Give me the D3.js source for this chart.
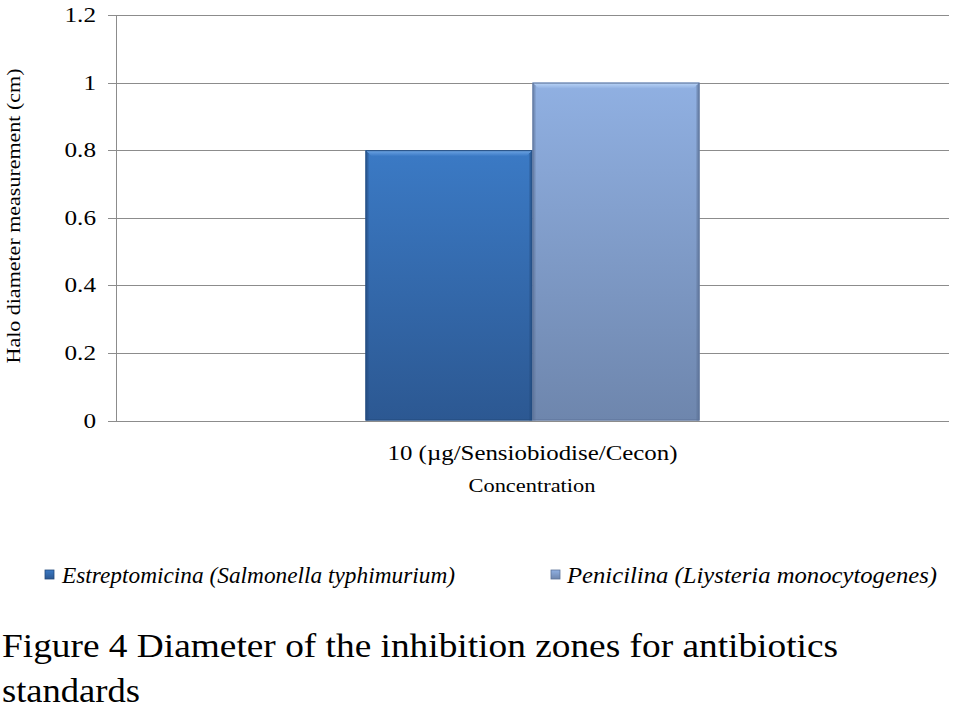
<!DOCTYPE html>
<html>
<head>
<meta charset="utf-8">
<script src="https://cdn.jsdelivr.net/npm/d3@7"></script>
</head>
<body style="margin:0;padding:0;background:#fff">
<svg id="chart" width="969" height="723" style="display:block"></svg>
<script>
// ---- data ----
const categories = ["10 (\u00b5g/Sensiobiodise/Cecon)"];
const seriesNames = ["Estreptomicina (Salmonella typhimurium)", "Penicilina (Liysteria monocytogenes)"];
const estreptomicina = [0.8];
const penicilina = [1.0];
const yTicks = [0, 0.2, 0.4, 0.6, 0.8, 1, 1.2];
const yTickLabels = ["0", "0.2", "0.4", "0.6", "0.8", "1", "1.2"];
const xTitle = "Concentration";
const yTitle = "Halo diameter measurement  (cm)";
const captionLines = ["Figure 4 Diameter of the inhibition zones for antibiotics", "standards"];

const FONT = "Liberation Serif";
(function () {
  const c = document.createElement("canvas").getContext("2d");
  ["", "italic "].forEach(st => {
    c.font = `${st}20px "${FONT}", serif`;
    c.measureText("Figure 4 Diameter 0.8 (\u00b5g/Cecon)");
  });
})();

const seriesValues = [estreptomicina, penicilina];
const rows = categories.map((c, i) => ({ cat: c, vals: seriesValues.map((s, j) => ({ key: seriesNames[j], idx: j, v: s[i] })) }));

const svg = d3.select("#chart").attr("font-family", FONT);
const plotL = 116, plotR = 949, plotT = 15, plotB = 420.5;

const x0 = d3.scaleBand().domain(categories).range([plotL, plotR]).paddingInner(0).paddingOuter(0.747);
const x1 = d3.scaleBand().domain(seriesNames).range([0, x0.bandwidth()]).padding(0);
const y = d3.scaleLinear().domain([0, 1.2]).range([plotB, plotT]);

// gradients
const defs = svg.append("defs");
const palettes = [
  { top: "#3b7ac5", bottom: "#2c5892", edge: "#234a7c", hi: "#72a8e6" },
  { top: "#90b0e2", bottom: "#6e86ad", edge: "#5d7398", hi: "#bcd6f7" }
];
palettes.forEach((p, i) => {
  const g = defs.append("linearGradient").attr("id", "g" + i).attr("x1", 0).attr("y1", 0).attr("x2", 0).attr("y2", 1);
  g.append("stop").attr("offset", "0%").attr("stop-color", p.top);
  g.append("stop").attr("offset", "100%").attr("stop-color", p.bottom);
  const h = defs.append("linearGradient").attr("id", "h" + i).attr("x1", 0).attr("y1", 0).attr("x2", 0).attr("y2", 1);
  h.append("stop").attr("offset", "0%").attr("stop-color", p.hi);
  h.append("stop").attr("offset", "100%").attr("stop-color", p.top);
});

// gridlines
svg.append("g").selectAll("line").data(yTicks).join("line")
  .attr("x1", plotL - 8).attr("x2", plotR)
  .attr("y1", d => Math.round(y(d)) + 0.5).attr("y2", d => Math.round(y(d)) + 0.5)
  .attr("stroke", "#8c8c8c").attr("stroke-width", 1);

// y axis line
svg.append("line").attr("x1", plotL + 0.5).attr("x2", plotL + 0.5).attr("y1", y(1.2)).attr("y2", y(0) + 1)
  .attr("stroke", "#8c8c8c");

// y tick labels (slightly wide, as in the reference)
svg.append("g").selectAll("text").data(yTicks).join("text")
  .attr("font-family", FONT)
  .attr("x", 96).attr("y", d => y(d) + 7)
  .attr("text-anchor", "end").attr("font-size", 21)
  .text((d, i) => yTickLabels[i])
  .each(function () {
    const w = this.getComputedTextLength();
    d3.select(this).attr("textLength", w * 1.2).attr("lengthAdjust", "spacingAndGlyphs");
  });

// bars
const groups = svg.append("g").selectAll("g").data(rows).join("g")
  .attr("transform", d => `translate(${x0(d.cat)},0)`);

const bars = groups.selectAll("g.bar").data(d => d.vals).join("g").attr("class", "bar");
bars.each(function(d) {
  const g = d3.select(this);
  const bx = x1(d.key), bw = x1.bandwidth();
  const by = y(d.v), bh = y(0) - y(d.v);
  const p = palettes[d.idx];
  g.append("rect").attr("x", bx).attr("y", by).attr("width", bw).attr("height", bh)
    .attr("fill", `url(#g${d.idx})`);
  const bev = 6;
  g.append("path")
    .attr("d", `M${bx},${by} L${bx + bw},${by} L${bx + bw - bev},${by + bev} L${bx + bev},${by + bev} Z`)
    .attr("fill", `url(#h${d.idx})`);
  g.append("path")
    .attr("d", `M${bx},${by} L${bx + 3},${by + 3} L${bx + 3},${by + bh} L${bx},${by + bh} Z`)
    .attr("fill", p.edge).attr("opacity", 0.45);
  g.append("path")
    .attr("d", `M${bx + bw},${by} L${bx + bw - 3},${by + 3} L${bx + bw - 3},${by + bh} L${bx + bw},${by + bh} Z`)
    .attr("fill", p.edge).attr("opacity", 0.55);
  g.append("rect").attr("x", bx + 0.5).attr("y", by + 0.5).attr("width", bw - 1).attr("height", bh - 1)
    .attr("fill", "none").attr("stroke", p.edge).attr("stroke-width", 1);
});

// x category label
svg.append("g").selectAll("text").data(categories).join("text")
  .attr("font-family", FONT)
  .attr("x", d => x0(d) + x0.bandwidth() / 2).attr("y", 460)
  .attr("text-anchor", "middle").attr("font-size", 22)
  .attr("textLength", 290).attr("lengthAdjust", "spacingAndGlyphs")
  .text(d => d);

// axis titles
svg.append("text").attr("font-family", FONT).attr("x", (plotL + plotR) / 2 - 0.5).attr("y", 492)
  .attr("text-anchor", "middle").attr("font-size", 18)
  .attr("textLength", 127).attr("lengthAdjust", "spacingAndGlyphs").text(xTitle);

svg.append("text").attr("font-family", FONT).attr("transform", "translate(20,216) rotate(-90)")
  .attr("text-anchor", "middle").attr("font-size", 19)
  .attr("textLength", 295).attr("lengthAdjust", "spacingAndGlyphs").text(yTitle);

// legend
const legendPos = [{ mx: 45, tx: 62, tw: 393 }, { mx: 551, tx: 567, tw: 370 }];
const leg = svg.append("g").selectAll("g").data(seriesNames).join("g");
leg.append("rect")
  .attr("x", (d, i) => legendPos[i].mx).attr("y", 570).attr("width", 9).attr("height", 9)
  .attr("fill", (d, i) => `url(#g${i})`).attr("stroke", (d, i) => palettes[i].edge).attr("stroke-width", 0.8);
leg.append("text")
  .attr("font-family", FONT)
  .attr("x", (d, i) => legendPos[i].tx).attr("y", 583)
  .attr("font-size", 23).attr("font-style", "italic")
  .attr("textLength", (d, i) => legendPos[i].tw).attr("lengthAdjust", "spacingAndGlyphs")
  .text(d => d);

// caption
const capWidths = [836, 138];
svg.append("g").selectAll("text").data(captionLines).join("text")
  .attr("font-family", FONT)
  .attr("x", 2).attr("y", (d, i) => 657 + i * 45)
  .attr("font-size", 33)
  .attr("textLength", (d, i) => capWidths[i]).attr("lengthAdjust", "spacingAndGlyphs")
  .text(d => d);
</script>
</body>
</html>
